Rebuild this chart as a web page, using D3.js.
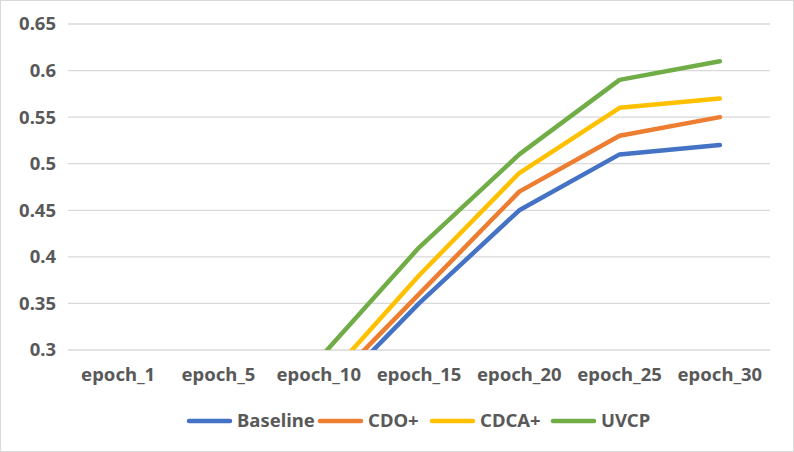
<!DOCTYPE html>
<html>
<head>
<meta charset="utf-8">
<script src="https://cdn.jsdelivr.net/npm/d3@7"></script>
<style>
  body { margin: 0; background: #fff; }
  text { font-family: "Noto Sans", "DejaVu Sans", sans-serif; font-weight: bold; fill: #595959; }
</style>
</head>
<body>
<div id="chart"></div>
<script>
// categories and series
var epochs = ['epoch_1', 'epoch_5', 'epoch_10', 'epoch_15', 'epoch_20', 'epoch_25', 'epoch_30'];
var baseline = [0.05, 0.15, 0.24, 0.35, 0.45, 0.51, 0.52];
var cdo = [0.05, 0.15, 0.25, 0.36, 0.47, 0.53, 0.55];
var cdca = [0.05, 0.15, 0.26, 0.38, 0.49, 0.56, 0.57];
var uvcp = [0.05, 0.15, 0.29, 0.41, 0.51, 0.59, 0.61];
var yTicks = [0.3, 0.35, 0.4, 0.45, 0.5, 0.55, 0.6, 0.65];

var series = [
    { name: 'Baseline', values: baseline, color: '#4472C4' },
    { name: 'CDO+', values: cdo, color: '#ED7D31' },
    { name: 'CDCA+', values: cdca, color: '#FFC000' },
    { name: 'UVCP', values: uvcp, color: '#70AD47' }
];

var w = 794, h = 452;
var plotLeft = 68, plotRight = 770, plotTop = 24, plotBottom = 350;
var fontSize = '18.5px';

var svg = d3.select('#chart')
    .append('svg')
    .attr('width', w)
    .attr('height', h);

//border
svg.append('rect')
    .attr('x', 0.5).attr('y', 0.5)
    .attr('width', w - 1).attr('height', h - 1)
    .attr('fill', '#fff')
    .attr('stroke', '#d9d9d9');

var x = d3.scalePoint()
    .domain(epochs)
    .range([plotLeft, plotRight])
    .padding(0.5);

var y = d3.scaleLinear()
    .domain([0.3, 0.65])
    .range([plotBottom, plotTop]);

//grid lines
svg.append('g')
    .selectAll('line')
    .data(yTicks)
    .enter()
    .append('line')
    .attr('x1', plotLeft).attr('x2', plotRight)
    .attr('y1', d => y(d)).attr('y2', d => y(d))
    .attr('stroke', '#d9d9d9')
    .attr('stroke-width', 1.3);

//y labels
svg.append('g')
    .selectAll('text')
    .data(yTicks)
    .enter()
    .append('text')
    .attr('x', 56)
    .attr('y', d => y(d))
    .attr('dy', '0.35em')
    .attr('text-anchor', 'end')
    .style('font-size', fontSize)
    .text(d => d3.format('')(d));

//x labels
svg.append('g')
    .selectAll('text')
    .data(epochs)
    .enter()
    .append('text')
    .attr('x', d => x(d))
    .attr('y', 375)
    .attr('dy', '0.35em')
    .attr('text-anchor', 'middle')
    .style('font-size', fontSize)
    .text(d => d);

svg.append('clipPath')
    .attr('id', 'plot')
    .append('rect')
    .attr('x', 0).attr('y', 0)
    .attr('width', w).attr('height', plotBottom);

var line = d3.line()
    .x((d, i) => x(epochs[i]))
    .y(d => y(d));

svg.append('g')
    .attr('clip-path', 'url(#plot)')
    .selectAll('path')
    .data(series)
    .enter()
    .append('path')
    .attr('d', d => line(d.values))
    .attr('fill', 'none')
    .attr('stroke', d => d.color)
    .attr('stroke-width', 4.5)
    .attr('stroke-linecap', 'round')
    .attr('stroke-linejoin', 'round');

//legend
var legendX = [187, 318, 430, 551];
var legend = svg.append('g')
    .selectAll('g')
    .data(series)
    .enter()
    .append('g')
    .attr('transform', (d, i) => 'translate(' + legendX[i] + ',421)');

legend.append('line')
    .attr('x1', 2).attr('x2', 43)
    .attr('stroke', d => d.color)
    .attr('stroke-width', 4.5)
    .attr('stroke-linecap', 'round');

legend.append('text')
    .attr('x', 50)
    .attr('dy', '0.35em')
    .style('font-size', fontSize)
    .text(d => d.name);
</script>
</body>
</html>
